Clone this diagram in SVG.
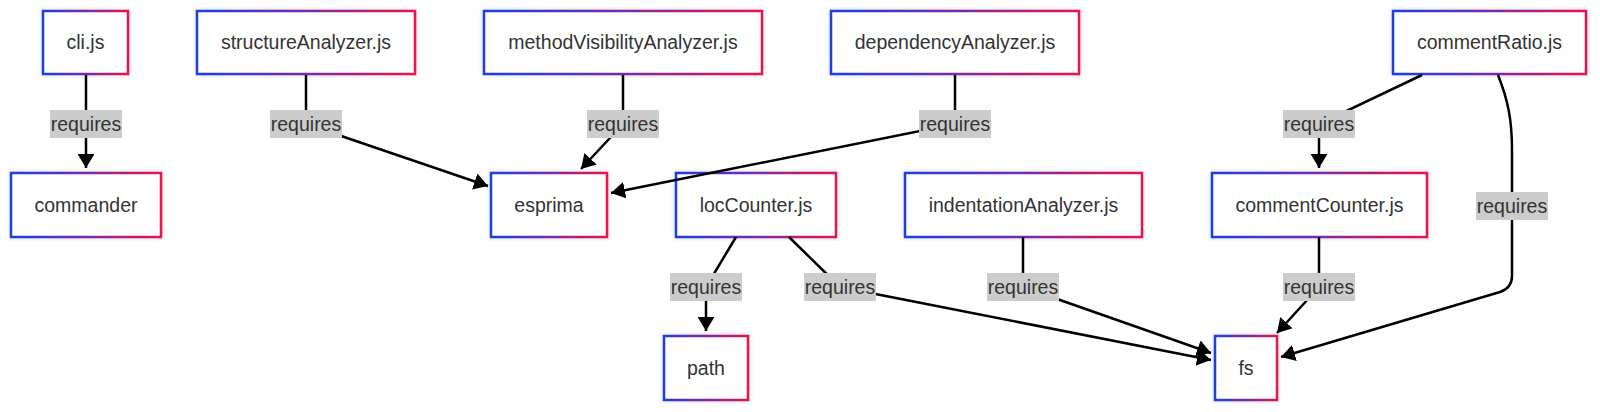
<svg xmlns="http://www.w3.org/2000/svg" width="1600" height="412" viewBox="0 0 1600 412">
<style>
.node rect{fill:#ffffff;stroke:url(#grad);stroke-width:2.5;filter:url(#shadow)}
.node text{font-family:"Liberation Sans",Arial,sans-serif;font-size:19.5px;fill:#333333;text-anchor:middle}
.edge{fill:none;stroke:#000000;stroke-width:2.5;marker-end:url(#arr)}
.elabel rect{fill:#cccccc}
.elabel text{font-family:"Liberation Sans",Arial,sans-serif;font-size:19.5px;fill:#333333;text-anchor:middle}
</style>
<defs>
<linearGradient id="grad" x1="0" y1="0" x2="1" y2="0">
<stop offset="0" stop-color="#1a3fe2"/>
<stop offset="0.5" stop-color="#7a2aa8"/>
<stop offset="1" stop-color="#e8134c"/>
</linearGradient>
<filter id="shadow" x="-10%" y="-20%" width="120%" height="140%">
<feDropShadow dx="0" dy="0" stdDeviation="2" flood-color="#000000" flood-opacity="0.18"/>
</filter>
<marker id="arr" viewBox="0 0 10 12" refX="10" refY="6" markerUnits="userSpaceOnUse" markerWidth="14" markerHeight="16.8" orient="auto">
<path d="M0,0 L10,6 L0,12 z" fill="#000000"/>
</marker>
</defs>
<rect width="1600" height="412" fill="#ffffff"/>
<g id="nodes">
<g id="cli" class="node"><rect x="43" y="11" width="85" height="63"/><text x="85.5" y="49.3">cli.js</text></g>
<g id="structureAnalyzer" class="node"><rect x="197" y="11" width="218" height="63"/><text x="306" y="49.3">structureAnalyzer.js</text></g>
<g id="methodVisibilityAnalyzer" class="node"><rect x="484" y="11" width="278" height="63"/><text x="623" y="49.3">methodVisibilityAnalyzer.js</text></g>
<g id="dependencyAnalyzer" class="node"><rect x="831" y="11" width="248" height="63"/><text x="955" y="49.3">dependencyAnalyzer.js</text></g>
<g id="commentRatio" class="node"><rect x="1393" y="11" width="193" height="63"/><text x="1489.5" y="49.3">commentRatio.js</text></g>
<g id="commander" class="node"><rect x="11" y="173" width="150" height="64"/><text x="86" y="211.8">commander</text></g>
<g id="esprima" class="node"><rect x="491" y="173" width="116" height="64"/><text x="549" y="211.8">esprima</text></g>
<g id="locCounter" class="node"><rect x="676" y="173" width="160" height="64"/><text x="756" y="211.8">locCounter.js</text></g>
<g id="indentationAnalyzer" class="node"><rect x="905" y="173" width="237" height="64"/><text x="1023.5" y="211.8">indentationAnalyzer.js</text></g>
<g id="commentCounter" class="node"><rect x="1212" y="173" width="215" height="64"/><text x="1319.5" y="211.8">commentCounter.js</text></g>
<g id="path" class="node"><rect x="664" y="336" width="84" height="64"/><text x="706" y="374.8">path</text></g>
<g id="fs" class="node"><rect x="1215" y="336" width="62" height="64"/><text x="1246" y="374.8">fs</text></g>
</g>
<g id="connectors">
<path class="edge" d="M86,75 L86,168"/>
<path class="edge" d="M306,75 L306,124 L488,186"/>
<path class="edge" d="M623,75 L623,124 L581,169"/>
<path class="edge" d="M955,75 L955,124 L611,193"/>
<path class="edge" d="M1422,75 L1319,124 L1319,168"/>
<path class="edge" d="M1498,75 C1508,100 1512,120 1512,150 L1512,276 Q1512,288 1500,292 L1281,357"/>
<path class="edge" d="M736,237 L706,287 L706,331"/>
<path class="edge" d="M789,237 L840,287 L1211,360"/>
<path class="edge" d="M1023,237 L1023,287 L1211,353"/>
<path class="edge" d="M1319,237 L1319,287 L1277,333"/>
</g>
<g id="edge-labels">
<g class="elabel"><rect x="50" y="110" width="72" height="28"/><text x="86" y="130.8">requires</text></g>
<g class="elabel"><rect x="270" y="110" width="72" height="28"/><text x="306" y="130.8">requires</text></g>
<g class="elabel"><rect x="587" y="110" width="72" height="28"/><text x="623" y="130.8">requires</text></g>
<g class="elabel"><rect x="919" y="110" width="72" height="28"/><text x="955" y="130.8">requires</text></g>
<g class="elabel"><rect x="1283" y="110" width="72" height="28"/><text x="1319" y="130.8">requires</text></g>
<g class="elabel"><rect x="1476" y="192" width="72" height="28"/><text x="1512" y="212.8">requires</text></g>
<g class="elabel"><rect x="670" y="273" width="72" height="28"/><text x="706" y="293.8">requires</text></g>
<g class="elabel"><rect x="804" y="273" width="72" height="28"/><text x="840" y="293.8">requires</text></g>
<g class="elabel"><rect x="987" y="273" width="72" height="28"/><text x="1023" y="293.8">requires</text></g>
<g class="elabel"><rect x="1283" y="273" width="72" height="28"/><text x="1319" y="293.8">requires</text></g>
</g>
</svg>
